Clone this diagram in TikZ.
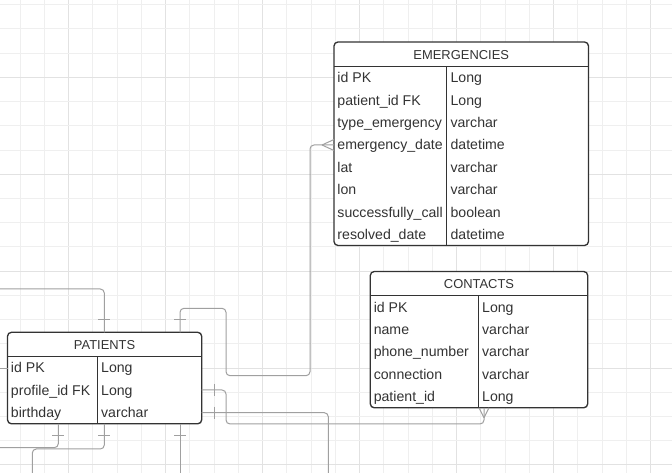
\documentclass[tikz,border=0pt]{standalone}
\usepackage{fontspec}
\setmainfont{Liberation Sans}
\usetikzlibrary{calc}
\definecolor{gridminor}{HTML}{EFEFEF}
\definecolor{gridmajor}{HTML}{E2E2E2}
\definecolor{ink}{HTML}{333333}
\definecolor{wire}{HTML}{A0A0A0}
\tikzset{
  tbl/.style={draw=ink, fill=white, line width=1pt, rounded corners=3pt, inner sep=0pt, outer sep=0pt},
  tblline/.style={draw=ink, line width=1pt},
  hdr/.style={inner sep=0pt, anchor=base, text=ink, font=\fontsize{9.7}{11}\selectfont},
  cell/.style={inner sep=0pt, anchor=base west, text=ink, font=\fontsize{10.6}{12}\selectfont},
  conn/.style={draw=wire, line width=0.75pt, rounded corners=3pt},
  tickline/.style={draw=wire, line width=0.75pt},
}
\newcommand\ertable[8]{%
  \node[tbl, anchor=north west, minimum width={(#4-#2)*0.75pt}, minimum height={(#5-#3)*0.75pt}] (#1) at (#2,#3) {};
  \draw[tblline] ({#2},{#3+24.3}) -- ({#4},{#3+24.3});
  \draw[tblline] ({#6},{#3+24.3}) -- ({#6},{#5});
  \node[hdr] (#1-head) at ({(#2+#4)/2},{#3+17.5}) {#7};
  \foreach \ka/\kb [count=\i] in {#8}{
    \node[cell] (#1-k\i) at ({#2+3.2},{#3+24.3+(\i-1)*22.4+16.4}) {\ka};
    \node[cell] (#1-t\i) at ({#6+3.6},{#3+24.3+(\i-1)*22.4+16.4}) {\kb};
  }
}
\begin{document}
\begin{tikzpicture}[x=0.75pt,y=-0.75pt]
  \fill[white] (0,0) rectangle (672,473);
  \useasboundingbox (0,0) rectangle (672,473);
  % grid
  \foreach \k in {0,...,26}{
    \pgfmathtruncatemacro\mm{mod(\k,4)}
    \ifnum\mm=2 \def\gc{gridmajor}\else\def\gc{gridminor}\fi
    \draw[draw=\gc, line width=0.7pt] ({20+24.25*\k},0) -- ({20+24.25*\k},473);
  }
  \foreach \k in {0,...,19}{
    \pgfmathtruncatemacro\mm{mod(\k,4)}
    \ifnum\mm=3 \def\gc{gridmajor}\else\def\gc{gridminor}\fi
    \draw[draw=\gc, line width=0.7pt] (0,{4.6+24.23*\k}) -- (672,{4.6+24.23*\k});
  }
  % tables
  \ertable{emerg}{334}{42}{588.5}{245.5}{446.7}{EMERGENCIES}{id PK/Long, patient\_id FK/Long, type\_emergency/varchar, emergency\_date/datetime, lat/varchar, lon/varchar, successfully\_call/boolean, resolved\_date/datetime}
  \ertable{cont}{370.3}{271.5}{587.7}{407.8}{478.3}{CONTACTS}{id PK/Long, name/varchar, phone\_number/varchar, connection/varchar, patient\_id/Long}
  \ertable{pat}{7.5}{332.3}{201.7}{423.8}{97.3}{PATIENTS}{id PK/Long, profile\_id FK/Long, birthday/varchar}
  % free ends
  \coordinate (eIn) at ($(emerg.north west)+(0,103)$);
  \coordinate (cIn) at ($(cont.south west)+(113.7,0)$);
  \coordinate (cC) at (328.3,473);
  \coordinate (cD) at (0,289);
  \coordinate (cE) at (0,368.3);
  \coordinate (cF) at (0,447.7);
  \coordinate (cG) at (32.3,473);
  \coordinate (cH) at (180,473);
  % connectors
  \draw[conn] ($(pat.north west)+(172.5,0)$) |- (226,308.3) |- (310,375.7) |- (eIn);
  \draw[tickline] ($(eIn)+(-12,0)$) -- ($(eIn)+(0,-5.5)$) ($(eIn)+(-12,0)$) -- ($(eIn)+(0,5.5)$);
  \draw[tickline] (174,319.3) -- (186,319.3);
  \draw[conn] ($(pat.north east)+(0,57.7)$) -| (226,424) -| (cIn);
  \draw[tickline] ($(cIn)+(0,10)$) -- ($(cIn)+(-5,0)$) ($(cIn)+(0,10)$) -- ($(cIn)+(5,0)$);
  \draw[tickline] (214,384) -- (214,396);
  \draw[conn] ($(pat.north east)+(0,80.4)$) -| (cC);
  \draw[tickline] (214,406.7) -- (214,418.7);
  \draw[conn] (cD) -| ($(pat.north west)+(96.8,0)$);
  \draw[tickline] (98.3,319.3) -- (110.3,319.3);
  \draw[conn] (cE) -- (pat.west |- cE);
  \draw[conn] ($(pat.south west)+(50.8,0)$) |- (cF);
  \draw[tickline] (52.3,435.7) -- (64.3,435.7);
  \draw[conn] ($(pat.south west)+(96.8,0)$) |- (32.3,449) -- (cG);
  \draw[tickline] (98.3,435.7) -- (110.3,435.7);
  \draw[conn] ($(pat.south west)+(172.5,0)$) -- (cH);
  \draw[tickline] (174,435.7) -- (186,435.7);
\end{tikzpicture}
\end{document}
